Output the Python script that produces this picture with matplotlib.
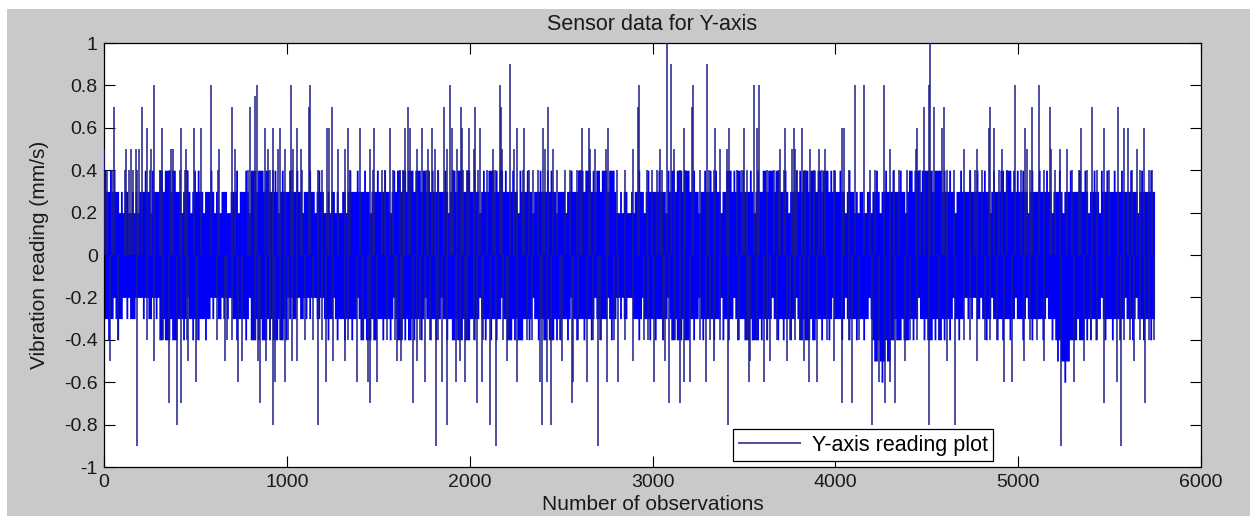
import numpy as np
import matplotlib
matplotlib.use("Agg")
import matplotlib.pyplot as plt
from matplotlib.patches import Rectangle

plt.rcParams["font.family"] = ["Liberation Sans", "DejaVu Sans"]
plt.rcParams["axes.unicode_minus"] = False

# ---------------------------------------------------------------- data
n_obs = 5746          # number of recorded observations
step_obs = 10         # observations per envelope reading of the dense core

# upper envelope of the dense core, in tenths of mm/s, one digit per 10 observations
# (one row per 1000 observations)
core_hi_rows = [
    "4334343323" "2332232323" "3343324333" "4434443443" "3323343234"
    "3433233343" "2322333223" "3342333432" "4443444344" "3334323433",
    "3433343323" "3343323433" "2232332322" "3323433343" "3343323334"
    "3334332343" "4434434443" "4443443434" "3343334323" "4434443344",
    "3343323433" "4443434434" "3334332433" "3433233343" "3343433233"
    "3323343334" "4434443434" "4344434443" "2232332232" "3343323433",
    "3334333243" "4434443444" "3343323343" "3433433233" "4443434434"
    "3334323433" "4434443443" "3343233343" "4344434443" "4434443434",
    "3343323433" "2323322332" "3343233433" "3433343323" "4434443444"
    "4443444434" "3343323343" "3334333433" "3433234333" "4434443434",
    "3343323433" "3433343323" "3343233343" "3334334323" "3433243343"
    "3343334333" "3433323433" "33433",
]
# lower envelope of the dense core, magnitude in tenths of mm/s (values are negative)
core_lo_rows = [
    "3343323433" "2232333222" "2322332232" "4434443444" "3334323343"
    "3433343323" "2233232322" "3343333432" "4443434443" "4344434434",
    "2323322332" "3232223322" "3343323433" "3433343323" "4434443443"
    "3343334323" "4443434434" "3334323343" "3433233433" "4434443444",
    "3343323343" "3433433233" "4443434443" "3343233433" "4434443434"
    "3334323343" "3343334323" "3433323433" "2232332223" "3343233343",
    "3433343323" "4434443444" "3343323433" "3334333243" "3433234333"
    "4443444434" "3343323343" "3433343323" "4434443443" "3343334323",
    "3334323433" "3433343323" "4554565455" "4434443444" "3343323343"
    "4443434434" "3343233433" "2232322332" "3343323343" "3433343323",
    "3343233433" "3334323343" "4545565544" "4434443434" "3343323433"
    "3433343323" "3343233343" "33433",
]

# positive excursions: reading level (mm/s) and the observations that reach it
up_levels = [1.0, 0.9, 0.8, 0.75, 0.7, 0.6, 0.5, 0.4]
up_obs = [
    [3082, 4516],
    [2218, 3102, 3298],
    [273, 584, 835, 1021, 1127, 1893, 2167, 2924, 3224, 3553, 3580,
     4110, 4155, 4265, 4511, 4980, 5113],
    [826],
    [55, 210, 702, 799, 1122, 1246, 1661, 1862, 1951, 2030, 2172, 2426, 2918, 3217,
     4484, 4542, 4593, 4848, 5076, 5173, 5405, 5545],
    [237, 319, 419, 492, 529, 881, 923, 963, 1054, 1218, 1233, 1337, 1401, 1477,
     1565, 1647, 1671, 1738, 1793, 1902, 1957, 1999, 2057, 2258, 2298, 2400, 2615,
     2650, 2754, 3170, 3343, 3416, 3498, 3571, 3726,
     3772, 3818, 4037, 4046, 4447, 4584, 4839, 4870, 5040, 5341, 5469, 5578, 5600, 5687],
    [2, 120, 146, 175, 193, 255, 365, 379, 449, 629, 717, 899, 954, 990, 1032, 1076,
     1282, 1319, 1455,
     1711, 1774, 1811, 1875, 1930, 2021, 2130, 2176, 2240, 2413, 2458, 2659, 2686,
     2745, 2891, 3042, 3119, 3370, 3407, 3699,
     3763, 3781, 3863, 3909, 3946, 4301, 4443, 4702, 4775, 4912, 5049, 5177, 5231,
     5268, 5651],
    [14, 42, 115, 139, 160, 182, 252, 306, 361, 416, 443, 456, 626, 790, 908, 926,
     1027, 1082, 1173, 1191, 1346, 1474,
     1519, 1537, 1583, 1619, 1638, 1765, 1829, 1911, 1966, 1984, 2048, 2094, 2139,
     2294, 2322, 2349, 2376, 2477, 2522, 2550, 2586, 2604, 2805, 2851, 2969, 2997,
     3024, 3051, 3152, 3179, 3261, 3307, 3334, 3462, 3489, 3516, 3626, 3662, 3690, 3717,
     3790, 3836, 3882, 3927, 3991, 4073, 4192, 4219, 4319, 4347, 4392, 4465, 4611,
     4648, 4739, 4766, 4803, 4894, 4940, 5013, 5067, 5140, 5204, 5295, 5332, 5377,
     5432, 5496, 5624, 5669, 5715, 5733],
]

# negative excursions
down_levels = [-0.9, -0.8, -0.7, -0.6, -0.5, -0.4]
down_obs = [
    [182, 1816, 2145, 2701, 5235, 5563],
    [401, 926, 1173, 1875, 2112, 2395, 2444, 3411, 4201, 4511, 4657],
    [357, 419, 854, 1455, 1689, 2039, 2559, 3088, 3148,
     4037, 4091, 4274, 4329, 5472, 5691],
    [502, 735, 936, 990, 1215, 1382, 1446, 1492,
     1756, 1847, 1926, 1975, 2066, 2258, 2386, 2422, 2564, 2641, 2750, 2814, 3009,
     3170, 3206, 3294, 3526, 3608,
     3854, 3900, 4237, 4301, 4921, 4967, 5304, 5542],
    [33, 273, 461, 662, 753, 844, 885, 1027, 1054, 1255, 1319,
     1601, 1623, 1711, 1948, 2203, 2504, 2896, 3070, 3334, 3535, 3644, 3735,
     3827, 3991, 4383, 4611, 4775, 5031, 5140, 5359, 5633],
    [78, 233, 325, 456, 511, 620, 671, 698, 826, 908, 963, 1009, 1100, 1145, 1191,
     1337, 1419,
     1546, 1592, 1629, 1729, 1784, 1829, 1930, 1984, 2021, 2075, 2185, 2212, 2313,
     2340, 2495, 2595, 2677, 2714, 2787, 2851, 2951, 2978, 3060, 3124, 3261, 3316,
     3370, 3471, 3516, 3571, 3626, 3681,
     3754, 3781, 3809, 3955, 4073, 4128, 4411, 4447, 4566, 4702, 4739, 4821, 4848,
     4885, 5067, 5104, 5396, 5432, 5578, 5614, 5669, 5715, 5742],
]

title = "Sensor data for Y-axis"
x_label = "Number of observations"
y_label = "Vibration reading (mm/s)"
legend_label = "Y-axis reading plot"
x_ticks = [0, 1000, 2000, 3000, 4000, 5000, 6000]
y_ticks = [-1, -0.8, -0.6, -0.4, -0.2, 0, 0.2, 0.4, 0.6, 0.8, 1]

# ---------------------------------------------------------------- figure
W, H = 1250, 516
fig = plt.figure(figsize=(W / 100, H / 100), dpi=100, facecolor="white")
fig.patches.append(Rectangle((7 / W, 0), 1, (H - 9) / H, transform=fig.transFigure,
                             facecolor="#c9c9c9", edgecolor="none", zorder=-10))

ax = fig.add_axes([104 / W, (H - 467) / H, (1201 - 104) / W, (467 - 43) / H])
ax.set_facecolor("white")

line_blue = "#0000f5"
spike_col = "#1c1c8a"

# dense core as a filled band with a stepped envelope
hi = np.array([int(c) for c in "".join(core_hi_rows)]) / 10.0
lo = -np.array([int(c) for c in "".join(core_lo_rows)]) / 10.0
xs = np.append(np.arange(len(hi)) * step_obs, n_obs)
ax.fill_between(xs, np.append(lo, lo[-1]), np.append(hi, hi[-1]),
                step="post", color=line_blue, linewidth=0, zorder=2)

# individual excursions as vertical strokes from zero
ux, uy = [], []
for lev, obs in zip(up_levels, up_obs):
    ux += obs
    uy += [lev] * len(obs)
dx, dy = [], []
for lev, obs in zip(down_levels, down_obs):
    dx += obs
    dy += [lev] * len(obs)
sig = ax.vlines(ux, 0, uy, colors=spike_col, linewidth=1.1, zorder=3,
                label=legend_label)
ax.vlines(dx, 0, dy, colors=spike_col, linewidth=1.1, zorder=3)

ax.set_xlim(0, 6000)
ax.set_ylim(-1, 1)
ax.set_xticks(x_ticks)
ax.set_yticks(y_ticks)
ax.set_xticklabels([f"{v:g}" for v in x_ticks])
ax.set_yticklabels([f"{v:g}" for v in y_ticks])
ax.tick_params(direction="in", length=8, width=0.8, top=True, right=True,
               labelsize=14, colors="black", labelcolor="#1a1a1a")
ax.tick_params(axis="x", pad=5)
ax.tick_params(axis="y", pad=4.5)
for s in ax.spines.values():
    s.set_linewidth(0.9)
    s.set_color("black")

ax.set_title(title, fontsize=15.5, pad=9, color="#1a1a1a")
ax.set_xlabel(x_label, fontsize=15, color="#1a1a1a")
ax.set_ylabel(y_label, fontsize=15, color="#1a1a1a")
ax.xaxis.set_label_coords(0.5, -0.066)
ax.yaxis.set_label_coords(-0.05, 0.5)

leg = ax.legend(handles=[sig], loc="lower right",
                bbox_to_anchor=(993 / W, (H - 461) / H), bbox_transform=fig.transFigure,
                fontsize=15.5, frameon=True, fancybox=False, framealpha=1,
                edgecolor="black", borderpad=0.25, handlelength=2.9,
                handletextpad=0.5, borderaxespad=0)
leg.get_frame().set_linewidth(0.9)
leg.set_zorder(5)

fig.savefig("out.png", dpi=100, facecolor=fig.get_facecolor())
